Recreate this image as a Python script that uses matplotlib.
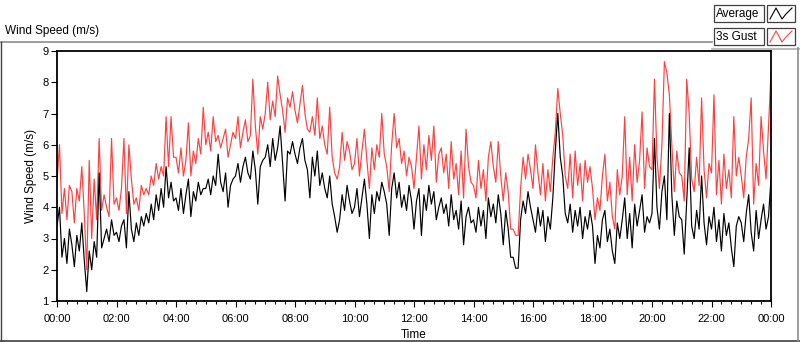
import matplotlib
matplotlib.use("Agg")
import matplotlib.pyplot as plt
from matplotlib.lines import Line2D
from matplotlib.patches import Rectangle
import numpy as np

plt.rcParams['font.family'] = ['Liberation Sans', 'DejaVu Sans']

# 5-minute readings, one row per hour (00:00 .. 23:55), plus the final 24:00 point
average_hours = [
    [3.4, 4.0, 2.4, 3.0, 2.2, 3.3, 2.8, 2.1, 3.1, 2.6, 3.5, 2.3],
    [1.3, 2.6, 2.0, 2.9, 2.4, 5.1, 2.7, 3.0, 3.3, 2.9, 3.6, 3.1],
    [3.2, 2.9, 3.4, 3.6, 2.7, 4.5, 3.3, 2.9, 3.5, 3.1, 3.7, 3.4],
    [3.8, 3.5, 4.1, 3.6, 4.4, 3.9, 4.6, 4.0, 5.3, 4.3, 4.8, 4.2],
    [4.3, 3.9, 4.6, 3.8, 4.4, 4.9, 3.7, 4.5, 4.2, 4.8, 4.4, 4.6],
    [4.6, 4.9, 4.4, 5.0, 4.7, 5.7, 4.8, 4.5, 5.1, 4.0, 4.7, 4.9],
    [5.0, 5.4, 4.8, 5.3, 5.6, 5.1, 4.9, 5.8, 5.2, 4.1, 5.3, 5.5],
    [5.6, 6.0, 5.3, 6.2, 5.5, 5.9, 6.6, 5.4, 4.2, 5.8, 5.7, 6.1],
    [5.7, 5.4, 5.9, 6.2, 5.5, 5.2, 4.3, 5.6, 5.0, 5.8, 4.7, 5.1],
    [4.6, 4.3, 5.0, 4.1, 3.7, 3.2, 3.6, 4.4, 3.9, 4.7, 4.2, 3.8],
    [4.0, 4.6, 3.7, 4.3, 4.9, 4.1, 3.0, 4.4, 3.8, 4.5, 4.2, 4.8],
    [4.5, 4.1, 3.1, 4.6, 5.1, 4.3, 4.8, 4.0, 4.4, 3.9, 4.7, 4.2],
    [3.3, 4.2, 4.6, 3.1, 4.4, 3.9, 4.7, 4.1, 4.5, 3.6, 4.0, 4.3],
    [3.8, 4.1, 3.4, 4.4, 3.6, 3.9, 3.3, 4.2, 2.8, 3.7, 4.0, 3.5],
    [3.6, 3.2, 4.0, 3.4, 3.9, 3.0, 4.3, 3.7, 4.1, 3.5, 4.4, 3.8],
    [2.8, 3.9, 3.3, 2.4, 2.4, 2.05, 2.05, 3.6, 4.2, 3.8, 4.5, 4.0],
    [3.6, 3.2, 4.0, 3.4, 3.9, 2.9, 3.7, 3.3, 4.3, 5.8, 7.0, 5.6],
    [5.0, 3.8, 3.5, 4.1, 3.2, 3.9, 3.4, 4.0, 3.0, 3.7, 3.3, 3.9],
    [3.4, 2.2, 3.1, 2.7, 3.6, 3.9, 2.9, 3.3, 2.6, 2.2, 3.5, 3.0],
    [3.6, 4.3, 3.0, 3.8, 2.7, 4.1, 3.4, 3.9, 4.4, 3.2, 3.7, 3.5],
    [3.8, 6.2, 4.0, 3.3, 4.5, 5.0, 3.6, 7.0, 4.4, 3.1, 4.2, 3.7],
    [3.6, 2.5, 4.2, 5.9, 3.4, 3.0, 3.9, 3.3, 5.0, 3.5, 2.8, 3.7],
    [3.3, 4.0, 2.9, 3.6, 2.6, 3.8, 3.1, 3.5, 2.7, 2.1, 3.4, 3.7],
    [3.5, 2.9, 3.8, 4.4, 3.2, 2.6, 3.9, 3.0, 3.6, 4.1, 3.3, 3.7],
]
average_end = 4.9

gust_hours = [
    [4.8, 6.0, 3.8, 4.6, 3.6, 4.7, 4.5, 3.5, 4.6, 4.2, 5.3, 3.8],
    [2.0, 5.5, 3.0, 4.9, 3.6, 6.2, 3.9, 4.4, 4.0, 3.7, 6.2, 4.1],
    [4.3, 3.9, 4.6, 6.2, 3.8, 6.0, 4.9, 4.1, 4.3, 3.9, 4.7, 4.4],
    [4.6, 4.4, 5.0, 4.7, 5.4, 4.9, 5.3, 5.0, 6.9, 5.3, 6.9, 5.6],
    [5.6, 5.1, 5.9, 5.0, 5.5, 6.7, 5.0, 5.8, 5.4, 6.2, 5.7, 7.2],
    [6.0, 6.4, 5.8, 6.9, 6.1, 6.3, 5.9, 6.2, 6.5, 5.6, 6.0, 6.4],
    [6.2, 6.9, 5.9, 6.4, 6.8, 6.1, 6.3, 8.1, 6.6, 5.7, 6.9, 6.5],
    [7.0, 8.0, 6.8, 7.4, 6.9, 8.2, 7.6, 7.1, 6.4, 7.5, 7.2, 7.7],
    [7.1, 6.7, 7.3, 7.9, 7.0, 6.5, 6.4, 6.9, 6.3, 7.5, 6.2, 6.6],
    [6.0, 5.7, 7.2, 5.6, 5.1, 4.9, 5.3, 6.4, 5.5, 6.1, 5.8, 5.2],
    [5.4, 6.2, 5.0, 5.8, 6.5, 5.5, 4.6, 5.9, 5.2, 6.0, 5.6, 7.0],
    [5.7, 5.3, 4.5, 6.0, 7.0, 5.9, 6.2, 5.4, 5.8, 5.0, 5.6, 5.3],
    [4.6, 5.6, 6.6, 4.9, 6.0, 5.2, 6.3, 5.5, 6.6, 4.8, 5.7, 5.9],
    [5.1, 5.7, 4.6, 6.1, 4.9, 5.4, 4.4, 5.8, 4.3, 6.5, 5.3, 4.8],
    [4.7, 4.3, 5.5, 4.6, 5.2, 4.2, 5.6, 6.1, 5.3, 4.8, 6.1, 5.0],
    [4.2, 5.1, 4.5, 3.3, 3.3, 3.1, 3.1, 4.6, 5.6, 4.9, 5.7, 5.2],
    [4.6, 6.0, 5.1, 4.4, 5.4, 4.2, 5.2, 4.5, 5.6, 6.4, 7.8, 7.0],
    [6.3, 5.0, 4.6, 5.7, 4.3, 5.8, 4.7, 5.4, 4.2, 5.5, 4.8, 5.3],
    [4.6, 3.6, 4.3, 3.9, 5.0, 5.7, 4.2, 4.8, 3.7, 3.3, 5.2, 4.4],
    [5.0, 6.9, 4.4, 5.6, 4.2, 6.0, 4.8, 5.5, 7.05, 4.6, 5.9, 5.3],
    [5.2, 8.1, 5.6, 4.6, 6.0, 8.66, 8.3, 7.6, 6.0, 4.5, 5.8, 5.1],
    [5.0, 4.2, 8.1, 7.0, 4.9, 4.5, 5.6, 4.7, 7.5, 5.2, 4.3, 5.4],
    [5.1, 7.6, 4.4, 5.5, 4.1, 5.7, 4.6, 5.2, 4.3, 6.9, 5.0, 5.6],
    [5.0, 4.3, 5.6, 6.2, 7.5, 4.1, 5.4, 4.7, 6.9, 5.8, 4.9, 6.6],
]
gust_end = 8.3

x_tick_labels = ["00:00", "02:00", "04:00", "06:00", "08:00", "10:00", "12:00",
                 "14:00", "16:00", "18:00", "20:00", "22:00", "00:00"]
y_ticks = [1, 2, 3, 4, 5, 6, 7, 8, 9]

average = [v for row in average_hours for v in row] + [average_end]
gust = [v for row in gust_hours for v in row] + [gust_end]
hours = np.arange(len(average)) * 5 / 60.0

W, H = 800, 342
fig = plt.figure(figsize=(W / 100, H / 100), dpi=100)
fig.patch.set_facecolor('white')

def fx(x):
    return x / W

def fy(y):
    return 1 - y / H

ax = fig.add_axes([fx(57), fy(301), fx(771) - fx(57), fy(51) - fy(301)])
ax.plot(hours, gust, color='#ff4040', lw=0.85)
ax.plot(hours, average, color='black', lw=0.85)
ax.set_xlim(0, 24)
ax.set_ylim(1, 9)
ax.set_xticks(np.arange(0, 25, 2))
ax.set_xticklabels(x_tick_labels)
ax.set_xticks(np.arange(0, 24.01, 1 / 3), minor=True)
ax.set_yticks(y_ticks)
ax.tick_params(axis='both', which='major', labelsize=8, length=4, width=0.8,
               direction='out', pad=2)
ax.tick_params(axis='x', which='major', pad=5)
ax.tick_params(axis='x', which='minor', length=2.5, width=0.8, direction='out')
for s in ax.spines.values():
    s.set_linewidth(1.3)
ax.set_xlabel("Time", fontsize=8.5, labelpad=4)
ax.set_ylabel("Wind Speed (m/s)", fontsize=8.5, labelpad=4)

# panel frame
gray = '#8c8c8c'
fig.add_artist(Line2D([fx(0), fx(712)], [fy(42), fy(42)], color=gray, lw=1.2))
fig.add_artist(Line2D([fx(712), fx(800)], [fy(48.5), fy(48.5)], color='#b0b0b0', lw=1.2))
fig.add_artist(Line2D([fx(0.5), fx(0.5)], [fy(42), fy(341)], color='#404040', lw=1.0))
fig.add_artist(Line2D([fx(0), fx(800)], [fy(341), fy(341)], color='#404040', lw=1.2))
fig.add_artist(Line2D([fx(797.5), fx(797.5)], [fy(48), fy(341)], color=gray, lw=1.2))
fig.text(fx(5), fy(31), "Wind Speed (m/s)", fontsize=8.5, ha='left', va='center')

# legend boxes
entries = [("Average", 'black', 5), ("3s Gust", '#ff4040', 28)]
for label, col, y0 in entries:
    fig.add_artist(Rectangle((fx(714), fy(y0 + 17)), fx(764) - fx(714), fy(y0) - fy(y0 + 17),
                             facecolor='white', edgecolor='#404040', lw=0.9))
    fig.text(fx(716), fy(y0 + 8.5), label, fontsize=8.5, ha='left', va='center')
    fig.add_artist(Rectangle((fx(767), fy(y0 + 17)), fx(795) - fx(767), fy(y0) - fy(y0 + 17),
                             facecolor='white', edgecolor='#404040', lw=0.9))
    zx = [770, 776, 782, 786, 792]
    zy = [y0 + 14, y0 + 3, y0 + 14, y0 + 9, y0 + 3]
    fig.add_artist(Line2D([fx(v) for v in zx], [fy(v) for v in zy], color=col, lw=0.8))

fig.savefig("out.png", dpi=100)
